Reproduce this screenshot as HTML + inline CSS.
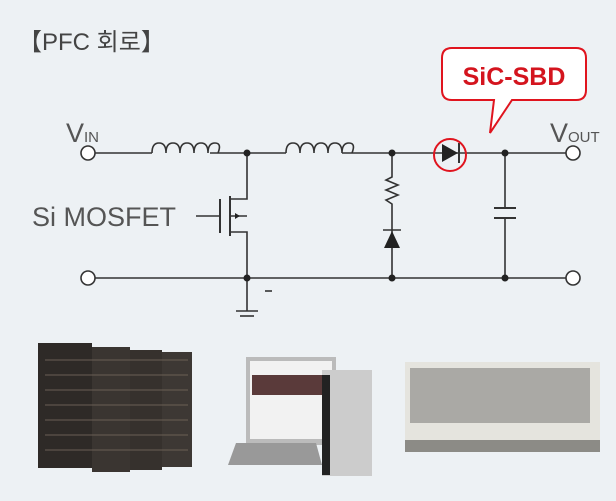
<!DOCTYPE html><html><head><meta charset="utf-8"><style>
body{margin:0;width:616px;height:501px;background:#edf1f4;overflow:hidden;font-family:"Liberation Sans","Noto Sans CJK KR",sans-serif}
</style></head><body>
<svg width="616" height="501" xmlns="http://www.w3.org/2000/svg" style="position:absolute;left:0;top:0">
<text x="18" y="50" font-size="24" fill="#444" font-family="Liberation Sans,Noto Sans CJK KR,sans-serif">【PFC 회로】</text>
<g stroke="#333" stroke-width="1.6" fill="none">
<line x1="95" y1="153" x2="152" y2="153"/>
<path d="M152 153 q0 -10 7 -10 q7 0 7 10 q0 -10 7 -10 q7 0 7 10 q0 -10 7 -10 q7 0 7 10 q0 -10 7 -10 q7 0 7 10 q0 -10 7 -10 q7 0 3 10"/>
<line x1="210" y1="153" x2="286" y2="153"/>
<path d="M286 153 q0 -10 7 -10 q7 0 7 10 q0 -10 7 -10 q7 0 7 10 q0 -10 7 -10 q7 0 7 10 q0 -10 7 -10 q7 0 7 10 q0 -10 7 -10 q7 0 3 10"/>
<line x1="342" y1="153" x2="566" y2="153"/>
<line x1="95" y1="278" x2="566" y2="278"/>
<circle cx="88" cy="153" r="7" fill="#fff"/><circle cx="573" cy="153" r="7" fill="#fff"/>
<circle cx="88" cy="278" r="7" fill="#fff"/><circle cx="573" cy="278" r="7" fill="#fff"/>
<polyline points="247,153 247,199 230,199"/>
<polyline points="247,278 247,232 230,232"/>
<line x1="230" y1="216" x2="247" y2="216"/>
<line x1="230" y1="196" x2="230" y2="236" stroke-width="2"/>
<line x1="220" y1="199" x2="220" y2="233" stroke-width="2"/>
<line x1="196" y1="216" x2="220" y2="216"/>
<line x1="247" y1="278" x2="247" y2="311"/>
<line x1="236" y1="311" x2="258" y2="311"/><line x1="240" y1="316" x2="254" y2="316"/>
<line x1="265" y1="291" x2="272" y2="291"/>
<polyline points="392,153 392,177 386,180 398,185 386,190 398,195 386,200 392,204 392,278"/>
<line x1="383" y1="230" x2="401" y2="230"/>
<line x1="505" y1="153" x2="505" y2="208"/><line x1="505" y1="218" x2="505" y2="278"/>
<line x1="494" y1="208" x2="516" y2="208" stroke-width="2"/><line x1="494" y1="218" x2="516" y2="218" stroke-width="2"/>
<line x1="459" y1="143" x2="459" y2="163" stroke-width="2"/>
</g>
<polygon points="384,248 400,248 392,231" fill="#222"/>
<polygon points="442,144 442,162 458,153" fill="#222"/>
<g fill="#222"><circle cx="247" cy="153" r="3.5"/><circle cx="392" cy="153" r="3.5"/><circle cx="505" cy="153" r="3.5"/>
<circle cx="247" cy="278" r="3.5"/><circle cx="392" cy="278" r="3.5"/><circle cx="505" cy="278" r="3.5"/></g>
<polygon points="240,216 235,213 235,219" fill="#222"/>
<circle cx="450" cy="155" r="16" fill="none" stroke="#e0141e" stroke-width="2"/>
<path d="M452 48 h124 q10 0 10 10 v32 q0 10 -10 10 h-64 l-22 33 l4 -33 h-42 q-10 0 -10 -10 v-32 q0 -10 10 -10z" fill="#fff" stroke="#e0141e" stroke-width="2"/>
<text x="514" y="85" font-size="25" font-weight="bold" fill="#d4141e" text-anchor="middle">SiC-SBD</text>
<text x="66" y="142" font-size="27" fill="#555">V<tspan font-size="15">IN</tspan></text>
<text x="550" y="142" font-size="27" fill="#555">V<tspan font-size="15">OUT</tspan></text>
<text x="32" y="226" font-size="27" fill="#555">Si MOSFET</text>
<!-- server racks -->
<g><rect x="38" y="343" width="54" height="125" fill="#2e2a27"/><rect x="92" y="347" width="38" height="125" fill="#3a3531"/><rect x="130" y="350" width="32" height="120" fill="#36312d"/><rect x="162" y="352" width="30" height="115" fill="#3d3834"/>
<g stroke="#6b5f55" stroke-width="1">
<line x1="45" y1="360" x2="188" y2="360"/><line x1="45" y1="375" x2="188" y2="375"/><line x1="45" y1="390" x2="188" y2="390"/><line x1="45" y1="405" x2="188" y2="405"/><line x1="45" y1="420" x2="188" y2="420"/><line x1="45" y1="435" x2="188" y2="435"/><line x1="45" y1="450" x2="188" y2="450"/></g></g>
<!-- computer -->
<rect x="246" y="357" width="90" height="88" fill="#bbb"/><rect x="250" y="361" width="82" height="78" fill="#f2f2f2"/><rect x="252" y="375" width="78" height="20" fill="#5a3a3a"/>
<polygon points="236,443 316,443 322,465 228,465" fill="#999"/>
<rect x="322" y="370" width="50" height="106" fill="#ccc"/><rect x="322" y="375" width="8" height="100" fill="#222"/>
<!-- AC -->
<rect x="405" y="362" width="195" height="90" fill="#e5e4de"/><rect x="410" y="368" width="180" height="55" fill="#aaa9a5"/>
<rect x="405" y="440" width="195" height="12" fill="#8c8b86"/>
</svg>
</body></html>
